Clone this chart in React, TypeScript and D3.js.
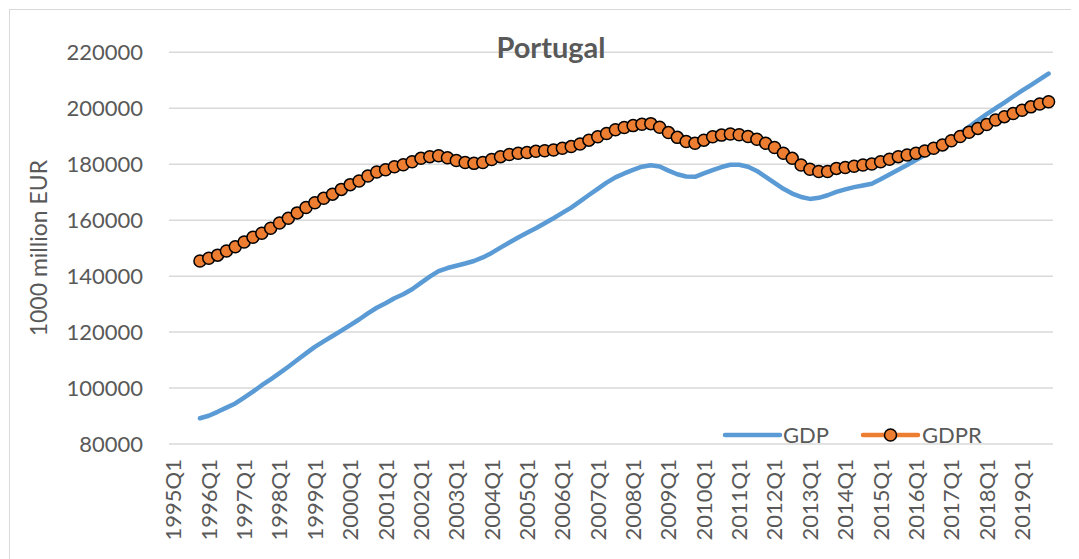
import * as d3 from "d3";
import { useEffect, useRef } from "react";

// quarters 1995Q1 .. 2019Q4
const startYear = 1995;
const endYear = 2019;
const quarters: string[] = [];
for (let y = startYear; y <= endYear; y++) for (let q = 1; q <= 4; q++) quarters.push(`${y}Q${q}`);

// series start at 1995Q4
const firstQuarter = "1995Q4";

const gdp = [
  89200, 90100, 91500, 93000, 94500, 96600, 98700, 101000, 103100, 105300,
  107600, 110000, 112400, 114700, 116700, 118600, 120500, 122500, 124500, 126700,
  128700, 130300, 132100, 133500, 135300, 137600, 139800, 141800, 142900, 143700,
  144500, 145400, 146700, 148300, 150200, 152000, 153800, 155500, 157100, 158900,
  160700, 162600, 164500, 166700, 169000, 171200, 173400, 175300, 176700, 178000,
  179100, 179600, 179200, 177700, 176400, 175600, 175500, 176700, 177900, 179000,
  179800, 179800, 179100, 177600, 175500, 173300, 171200, 169500, 168300, 167600,
  168000, 168900, 170100, 171000, 171800, 172400, 173000, 174600, 176300, 178000,
  179700, 181500, 183300, 185100, 187000, 189000, 191100, 193400, 195700, 197900,
  200000, 202000, 204200, 206300, 208300, 210300, 212400,
];

const gdpr = [
  145400, 146400, 147500, 149000, 150500, 152200, 153900, 155300, 157100, 159000,
  160700, 162600, 164500, 166200, 167800, 169300, 171000, 172700, 174000, 175800,
  177200, 178000, 179100, 179800, 180900, 182100, 182700, 183000, 182300, 181300,
  180600, 180300, 180600, 181700, 182700, 183500, 183900, 184200, 184600, 184800,
  185100, 185700, 186300, 187200, 188600, 189800, 191000, 192300, 193100, 193800,
  194300, 194500, 193200, 191300, 189600, 188100, 187500, 188600, 189800, 190400,
  190800, 190500, 189900, 188900, 187500, 186000, 183900, 182100, 179700, 178200,
  177400, 177400, 178500, 178800, 179300, 179700, 180100, 180900, 181800, 182700,
  183300, 183900, 184700, 185700, 186900, 188400, 189900, 191400, 192800, 194200,
  195800, 197000, 198100, 199300, 200500, 201500, 202300,
];

const yTicks = [80000, 100000, 120000, 140000, 160000, 180000, 200000, 220000];
const title = "Portugal";
const yTitle = "1000 million EUR";
const seriesNames = ["GDP", "GDPR"];

const FONT = "Lato, 'Open Sans', sans-serif";
const TEXT = "#595959";
const GRID = "#d9d9d9";
const BLUE = "#5b9bd5";
const ORANGE = "#ed7d31";

const App = () => {
  const ref = useRef<SVGSVGElement>(null);

  useEffect(() => {
    document.documentElement.style.overflow = "hidden";
    const svg = d3.select(ref.current);
    svg.selectAll("*").remove();
    // work in page coordinates (body margin is 8px)
    const g = svg.append("g").attr("transform", "translate(-8,-8)");

    const left = 169, right = 1053, top = 52.3, bottom = 444;

    const x = d3.scaleBand().domain(quarters).range([left, right]).padding(0);
    const cx = (q: string) => (x(q) as number) + x.bandwidth() / 2;
    const y = d3.scaleLinear().domain([80000, 220000]).range([bottom, top]);

    const offset = quarters.indexOf(firstQuarter);
    const gdpData = gdp.map((v, i) => ({ q: quarters[offset + i], v }));
    const gdprData = gdpr.map((v, i) => ({ q: quarters[offset + i], v }));

    // chart border
    g.append("rect")
      .attr("x", 9.5).attr("y", 9.5)
      .attr("width", 1066).attr("height", 580)
      .attr("fill", "white").attr("stroke", GRID);

    // gridlines
    g.append("g").selectAll("line").data(yTicks).enter().append("line")
      .attr("x1", left).attr("x2", right)
      .attr("y1", d => y(d)).attr("y2", d => y(d))
      .attr("stroke", GRID).attr("stroke-width", 1.5);

    // y tick labels
    g.append("g").selectAll("text").data(yTicks).enter().append("text")
      .attr("x", 143).attr("y", d => y(d)).attr("dy", "0.36em")
      .attr("text-anchor", "end")
      .style("font-family", FONT).style("font-size", "22px").style("fill", TEXT)
      .text(d => d);

    // y axis title
    g.append("text")
      .attr("transform", `translate(39,${(top + bottom) / 2}) rotate(-90)`)
      .attr("text-anchor", "middle").attr("dy", "0.36em")
      .style("font-family", FONT).style("font-size", "23px").style("fill", TEXT)
      .text(yTitle);

    // x tick labels (Q1 of each year)
    g.append("g").selectAll("text").data(quarters.filter(q => q.endsWith("Q1"))).enter().append("text")
      .attr("transform", d => `translate(${cx(d)},459) rotate(-90)`)
      .attr("text-anchor", "end").attr("dy", "0.36em")
      .style("font-family", FONT).style("font-size", "22px").style("fill", TEXT)
      .text(d => d);

    // title
    g.append("text")
      .attr("x", 551).attr("y", 58)
      .attr("text-anchor", "middle")
      .style("font-family", FONT).style("font-size", "29px").style("font-weight", "bold").style("fill", TEXT)
      .text(title);

    const line = d3.line<{ q: string; v: number }>().x(d => cx(d.q)).y(d => y(d.v));

    // GDP
    g.append("path").datum(gdpData)
      .attr("d", line).attr("fill", "none")
      .attr("stroke", BLUE).attr("stroke-width", 4.5)
      .attr("stroke-linejoin", "round").attr("stroke-linecap", "round");

    // GDPR
    g.append("path").datum(gdprData)
      .attr("d", line).attr("fill", "none")
      .attr("stroke", ORANGE).attr("stroke-width", 4.5)
      .attr("stroke-linejoin", "round").attr("stroke-linecap", "round");

    g.append("g").selectAll("circle").data(gdprData).enter().append("circle")
      .attr("cx", d => cx(d.q)).attr("cy", d => y(d.v)).attr("r", 6)
      .attr("fill", ORANGE).attr("stroke", "#000").attr("stroke-width", 1.5);

    // legend
    const lg = g.append("g");
    lg.append("line").attr("x1", 725).attr("x2", 780).attr("y1", 435).attr("y2", 435)
      .attr("stroke", BLUE).attr("stroke-width", 4.5).attr("stroke-linecap", "round");
    lg.append("text").attr("x", 783).attr("y", 435).attr("dy", "0.36em")
      .style("font-family", FONT).style("font-size", "22px").style("fill", TEXT)
      .text(seriesNames[0]);
    lg.append("line").attr("x1", 863).attr("x2", 918).attr("y1", 435).attr("y2", 435)
      .attr("stroke", ORANGE).attr("stroke-width", 4.5).attr("stroke-linecap", "round");
    lg.append("circle").attr("cx", 890.5).attr("cy", 435).attr("r", 6)
      .attr("fill", ORANGE).attr("stroke", "#000").attr("stroke-width", 1.5);
    lg.append("text").attr("x", 922).attr("y", 435).attr("dy", "0.36em")
      .style("font-family", FONT).style("font-size", "22px").style("fill", TEXT)
      .text(seriesNames[1]);
  }, []);

  return <svg ref={ref} width={1071} height={551} style={{ display: "block" }}></svg>;
};

export default App;
